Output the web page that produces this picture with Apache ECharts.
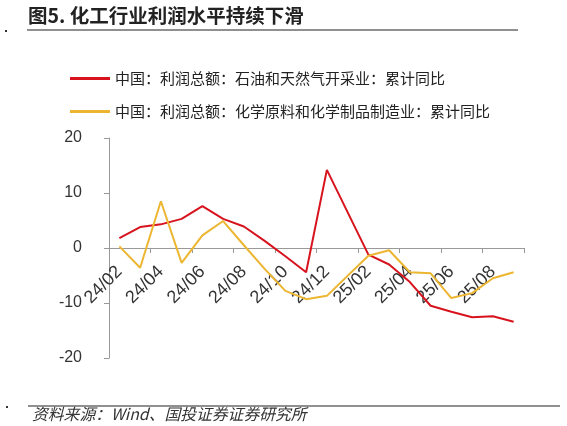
<!DOCTYPE html>
<html>
<head>
    <meta charset="utf-8">
    <title>化工行业利润水平持续下滑</title>
    <script src="https://cdn.jsdelivr.net/npm/echarts@6.0.0/dist/echarts.min.js"></script>
    <style>
        html, body { margin: 0; padding: 0; background: #fff; }
        #chart1 { width: 567px; height: 426px; }
    </style>
</head>
<body>
<div id="chart1"></div>
<script type="text/javascript">
    // 月份（25/01 无数据，折线直接连过去）
    var months = ['24/02', '24/03', '24/04', '24/05', '24/06', '24/07', '24/08', '24/09', '24/10', '24/11',
        '24/12', '25/01', '25/02', '25/03', '25/04', '25/05', '25/06', '25/07', '25/08', '25/09'];
    var yTicks = [-20, -10, 0, 10, 20];

    // 石油和天然气开采业 累计同比
    var oilGas = [1.8, 3.8, 4.3, 5.3, 7.6, 5.3, 3.9, 1.3, -1.5, -4.4,
        14.2, null, -1.2, -3.0, -6.2, -10.5, -11.6, -12.6, -12.4, -13.4];
    // 化学原料和化学制品制造业 累计同比
    var chemical = [0.3, -3.6, 8.5, -2.7, 2.3, 4.9, 0.5, -3.8, -7.8, -9.3,
        -8.7, null, -1.4, -0.4, -4.4, -4.6, -9.1, -8.2, -5.5, -4.4];

    var nameOil = '中国：利润总额：石油和天然气开采业：累计同比';
    var nameChem = '中国：利润总额：化学原料和化学制品制造业：累计同比';

    var cjk = '"Noto Sans CJK SC", sans-serif';
    var num = '"Liberation Sans", Arial, sans-serif';

    // 绘图区
    var gridTop = 138, gridHeight = 220;
    var yMin = yTicks[0], yMax = yTicks[yTicks.length - 1];
    // x 轴（连同标签）放在 0 值处
    var zeroOffset = -gridHeight * (0 - yMin) / (yMax - yMin);

    var myChart1 = echarts.init(document.getElementById('chart1'));

    myChart1.setOption({
        animation: false,
        backgroundColor: '#fff',
        graphic: [
            {
                type: 'text', left: 28, top: 6,
                style: {text: '图5. 化工行业利润水平持续下滑', font: 'bold 19.5px ' + cjk, fill: '#222'}
            },
            {type: 'line', shape: {x1: 27, y1: 30, x2: 518, y2: 30}, style: {stroke: '#222', lineWidth: 1.2}},
            {type: 'rect', shape: {x: 5, y: 30, width: 2, height: 2}, style: {fill: '#333'}},
            {type: 'line', shape: {x1: 28, y1: 406, x2: 560, y2: 406}, style: {stroke: '#222', lineWidth: 1.2}},
            {type: 'rect', shape: {x: 6, y: 406, width: 2, height: 2}, style: {fill: '#333'}},
            {
                type: 'text', left: 32, top: 406,
                style: {text: '资料来源：Wind、国投证券证券研究所', font: 'italic 15.8px ' + cjk, fill: '#333'}
            }
        ],
        legend: {
            orient: 'vertical',
            left: 65,
            top: 66,
            icon: 'rect',
            itemWidth: 40,
            itemHeight: 3,
            itemGap: 18,
            textStyle: {fontSize: 15, color: '#222', fontFamily: cjk},
            data: [nameOil, nameChem]
        },
        grid: {left: 109, right: 43, top: gridTop, height: gridHeight, containLabel: false},
        xAxis: {
            type: 'category',
            data: months,
            boundaryGap: true,
            position: 'bottom',
            offset: zeroOffset,
            axisLine: {onZero: false, lineStyle: {color: '#999', width: 1}},
            axisTick: {show: true, interval: 1, length: 5, lineStyle: {color: '#999'}},
            axisLabel: {
                interval: 1,
                rotate: 45,
                margin: 21,
                fontSize: 18,
                color: '#333',
                fontFamily: num
            }
        },
        yAxis: {
            type: 'value',
            min: yMin,
            max: yMax,
            interval: 10,
            splitLine: {show: false},
            axisLine: {show: true, lineStyle: {color: '#999', width: 1}},
            axisTick: {show: true, length: 5, lineStyle: {color: '#999'}},
            axisLabel: {margin: 27, fontSize: 16, color: '#333', fontFamily: num}
        },
        series: [
            {
                name: nameOil,
                type: 'line',
                data: oilGas,
                connectNulls: true,
                showSymbol: false,
                symbol: 'none',
                itemStyle: {color: '#D7141E'},
                lineStyle: {color: '#D7141E', width: 2}
            },
            {
                name: nameChem,
                type: 'line',
                data: chemical,
                connectNulls: true,
                showSymbol: false,
                symbol: 'none',
                itemStyle: {color: '#EDB631'},
                lineStyle: {color: '#EDB631', width: 2}
            }
        ]
    });
</script>
</body>
</html>
